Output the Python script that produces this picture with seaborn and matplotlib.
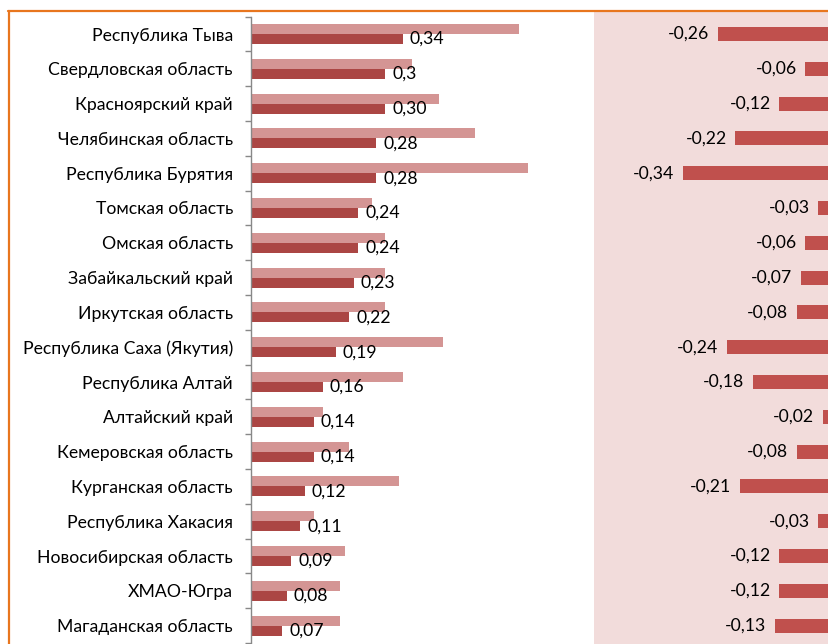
import pandas as pd
import matplotlib.pyplot as plt
import seaborn as sns
from matplotlib.lines import Line2D

# Regions, top to bottom
regions = ['Республика Тыва', 'Свердловская область', 'Красноярский край',
           'Челябинская область', 'Республика Бурятия', 'Томская область',
           'Омская область', 'Забайкальский край', 'Иркутская область',
           'Республика Саха (Якутия)', 'Республика Алтай', 'Алтайский край',
           'Кемеровская область', 'Курганская область', 'Республика Хакасия',
           'Новосибирская область', 'ХМАО-Югра', 'Магаданская область']

# Light (upper) bars
light_vals = [0.60, 0.36, 0.42, 0.50, 0.62, 0.27, 0.30, 0.30, 0.30,
              0.43, 0.34, 0.16, 0.22, 0.33, 0.14, 0.21, 0.20, 0.20]

# Dark (lower) bars with their labels
dark_vals = [0.34, 0.30, 0.30, 0.28, 0.28, 0.24, 0.24, 0.23, 0.22,
             0.19, 0.16, 0.14, 0.14, 0.12, 0.11, 0.09, 0.08, 0.07]
dark_labels = ['0,34', '0,3', '0,30', '0,28', '0,28', '0,24', '0,24', '0,23', '0,22',
               '0,19', '0,16', '0,14', '0,14', '0,12', '0,11', '0,09', '0,08', '0,07']

# Right panel (change)
diff_vals = [-0.26, -0.06, -0.12, -0.22, -0.34, -0.03, -0.06, -0.07, -0.08,
             -0.24, -0.18, -0.02, -0.08, -0.21, -0.03, -0.12, -0.12, -0.13]

light_col = '#D49594'
dark_col = '#AB4644'
right_col = '#C0504D'
panel_bg = '#F2DCDB'
orange = '#E8761E'
fs = 12.7

sns.set_theme(style='white')
plt.rcParams['font.family'] = ['Lato', 'DejaVu Sans']

W, H = 829, 644
fig = plt.figure(figsize=(W / 100, H / 100), dpi=100)

# pixel geometry
row_h = 34.8
y_top = 16.6
y_bot = y_top + 18 * row_h

left_df = pd.DataFrame({
    'region': regions * 2,
    'series': ['a'] * len(regions) + ['b'] * len(regions),
    'value': light_vals + dark_vals,
})

ax = fig.add_axes([251 / W, (H - y_bot) / H, (594 - 251) / W, (y_bot - y_top) / H])
sns.barplot(data=left_df, y='region', x='value', hue='series', order=regions,
            hue_order=['a', 'b'], palette=[light_col, dark_col], width=0.575,
            orient='h', saturation=1, legend=False, linewidth=0, ax=ax)
ax.set_xlim(0, 343 / 447)
ax.set_ylim(17.5, -0.5)
ax.set_xlabel('')
ax.set_ylabel('')
ax.set_xticks([])
for s in ['top', 'right', 'bottom']:
    ax.spines[s].set_visible(False)
ax.spines['left'].set_color('#888888')
ax.spines['left'].set_linewidth(1)
ax.set_yticks(range(len(regions)))
ax.set_yticklabels(regions, fontsize=fs, color='black')
ax.set_yticks([i - 0.5 for i in range(len(regions) + 1)], minor=True)
ax.tick_params(axis='y', which='major', length=0, pad=13)
ax.tick_params(axis='y', which='minor', left=True, length=4.5, width=1, color='#888888')
ax.bar_label(ax.containers[1], labels=dark_labels, padding=5, fontsize=fs, color='black')

# Right panel (runs past the right edge, as in the source)
x_end = 840
zero_x = 831.5
ax2 = fig.add_axes([594 / W, 0, (x_end - 594) / W, (H - 12) / H])
ax2.set_facecolor(panel_bg)
sns.barplot(x=diff_vals, y=regions, order=regions, color=right_col, width=0.4,
            orient='h', saturation=1, linewidth=0, ax=ax2)
ax2.set_xlim(-(zero_x - 594) / 437, (x_end - zero_x) / 437)
ax2.set_ylim(17.5 + (H - y_bot) / row_h, -0.5 - (y_top - 12) / row_h)
ax2.set_xticks([])
ax2.set_yticks([])
ax2.set_xlabel('')
ax2.set_ylabel('')
for s in ax2.spines.values():
    s.set_visible(False)
ax2.bar_label(ax2.containers[0], labels=[f'{v:.2f}'.replace('.', ',') for v in diff_vals],
              padding=6, fontsize=fs, color='black')

# Orange chart border
fig.add_artist(Line2D([8 / W, 1], [1 - 11 / H, 1 - 11 / H], color=orange, lw=1.6,
                      transform=fig.transFigure))
fig.add_artist(Line2D([9 / W, 9 / W], [0, 1 - 11 / H], color=orange, lw=1.6,
                      transform=fig.transFigure))

fig.savefig('out.png', dpi=100)
